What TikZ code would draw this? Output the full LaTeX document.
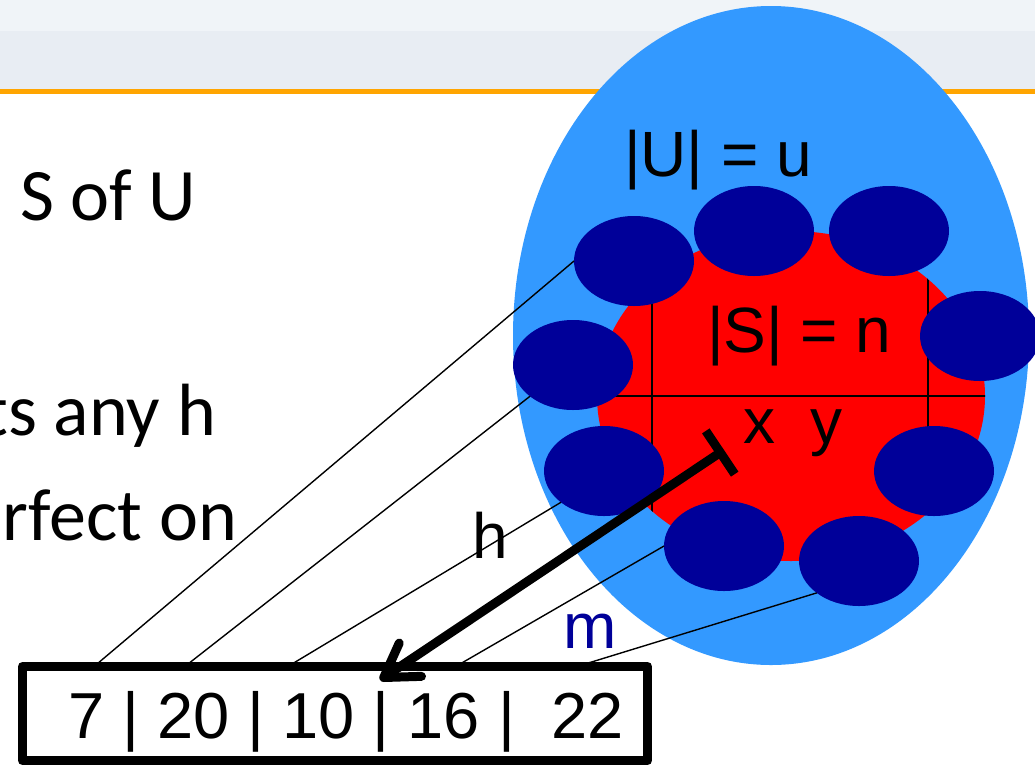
\documentclass[tikz,border=0pt]{standalone}
\usepackage{fontspec}
\setmainfont{Liberation Sans}
\newfontfamily\calibri{Carlito}
\usetikzlibrary{shapes.geometric,arrows.meta}
\definecolor{bandA}{HTML}{F0F4F8}
\definecolor{bandB}{HTML}{E8EDF3}
\definecolor{rulec}{HTML}{FFA500}
\definecolor{ublue}{HTML}{3399FF}
\definecolor{sred}{HTML}{FF0000}
\definecolor{dblue}{HTML}{000099}
\begin{document}
\begin{tikzpicture}[x=1pt,y=-1pt,
  blob/.style={ellipse, fill=dblue, draw=none, inner sep=0, outer sep=0, minimum width=120, minimum height=90},
  wire/.style={line width=1.4pt, black},
  gridline/.style={line width=2pt, black},
  arial/.style={inner sep=0, outer sep=0, font=\fontsize{64}{70}\selectfont},
  cal/.style={inner sep=0, outer sep=0, font=\calibri\fontsize{74}{80}\selectfont},
  bigarrow/.style={line width=9pt, line cap=butt, {Bar[width=52pt]}-{Straight Barb[length=32pt,width=40pt,round]}}
]
\useasboundingbox (0,0) rectangle (1035,766);
\clip (0,0) rectangle (1035,766);
\fill[white] (0,0) rectangle (1035,766);
\fill[bandA] (0,0) rectangle (1035,31);
\fill[bandB] (0,31) rectangle (1035,89);
\fill[rulec] (0,89) rectangle (1035,94);

% universe and set
\node[ellipse, fill=ublue, inner sep=0, outer sep=0, minimum width=516, minimum height=659] (U) at (771,335.5) {};
\node[ellipse, fill=sred, inner sep=0, outer sep=0, minimum width=388, minimum height=330] (S) at (791,396) {};

% grid inside S
\begin{scope}
  \clip (791,396) ellipse [x radius=194, y radius=165];
  \draw[gridline] (580,396) -- (1000,396);
  \draw[gridline] (652,220) -- (652,570);
  \draw[gridline] (928,220) -- (928,570);
\end{scope}

% elements
\node[blob] (e1) at (634,261) {};
\node[blob] (e2) at (754,231) {};
\node[blob] (e3) at (889,231) {};
\node[blob] (e4) at (980,336) {};
\node[blob] (e5) at (573,365) {};
\node[blob] (e6) at (604,471) {};
\node[blob] (e7) at (934,471) {};
\node[blob] (e8) at (724,546) {};
\node[blob] (e9) at (859,561) {};

% table slots
\coordinate (s1) at (97,664);
\coordinate (s2) at (188,664);
\coordinate (s3) at (292,664);
\coordinate (s4) at (460,664);
\coordinate (s5) at (585,664);

\draw[wire] (e1.west) -- (s1);
\draw[wire] (e5.216) -- (s2);
\draw[wire] (e6.216) -- (s3);
\draw[wire] (e8.west) -- (s4);
\draw[wire] (e9.217) -- (s5);

% hash arrow
\coordinate (tb) at (724,450);
\coordinate (tip) at (380,680);
\draw[bigarrow] (tb) -- (tip);

% labels
\node[arial, anchor=base west] (lu) at (624,176) {|U| = u};
\node[arial, anchor=base west] (ls) at (707,352) {|S| = n};
\node[arial, anchor=base west] (lxy) at (743,443) {x\ \ y};
\node[arial, anchor=base west] (lh) at (472,558) {h};
\node[arial, anchor=base west, text=dblue] (lm) at (563,648) {m};

% slide text
\node[cal, anchor=base west] (t1) at (20,220) {S of U};
\node[cal, anchor=base east] (t2) at (216,435) {ts any h};
\node[cal, anchor=base east] (t3) at (237,540) {rfect on};

% hash table
\node[draw, line width=9pt, line join=round, inner sep=0, outer sep=0, minimum width=625, minimum height=94] (box) at (335,713.5) {};
\node[arial, anchor=base west, font=\fontsize{65}{70}\selectfont] (nums) at (68,738) {7 | 20 | 10 | 16 |\ \ 22};
\end{tikzpicture}
\end{document}
